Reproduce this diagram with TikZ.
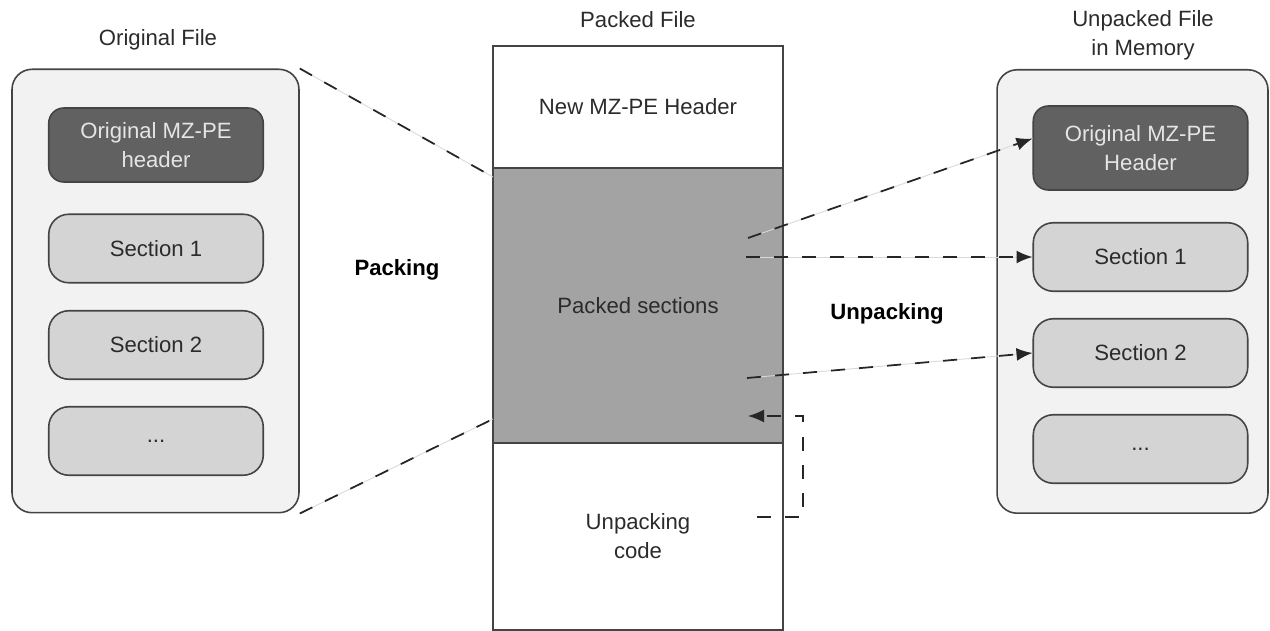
\documentclass[tikz,border=0pt]{standalone}
\usepackage{fontspec}
\setmainfont{Liberation Sans}
\usepackage{xcolor}
\usepackage{tikz}
\usetikzlibrary{arrows.meta}

\definecolor{boxline}{HTML}{444444}
\definecolor{contbg}{HTML}{F2F2F2}
\definecolor{secgray}{HTML}{D4D4D4}
\definecolor{hdrgray}{HTML}{616161}
\definecolor{packgray}{HTML}{A3A3A3}
\definecolor{txtgray}{HTML}{2B2B2B}

\begin{document}
\begin{tikzpicture}[x=0.02cm, y=-0.02cm,
  every node/.style={font=\fontsize{12.6}{16.5}\selectfont, text=txtgray, align=center},
  container/.style={draw=boxline, line width=0.9pt, fill=contbg, rounded corners=0.4cm,
    minimum width=#1, minimum height=8.87cm},
  hdrbox/.style={draw=boxline, line width=0.9pt, fill=hdrgray, text=white!90!black,
    rounded corners=0.3cm, minimum width=4.29cm},
  secbox/.style={draw=boxline, line width=0.9pt, fill=secgray, rounded corners=0.4cm,
    minimum width=4.29cm, minimum height=1.37cm},
  part/.style={draw=boxline, line width=1pt, minimum width=5.8cm, inner sep=0pt},
  steplabel/.style={font=\fontsize{12.6}{16.5}\selectfont\bfseries, text=black},
  flow/.style={draw=black!85, line width=1pt, dash pattern=on 8pt off 8pt,
    preaction={draw=black!15, solid, line width=0.5pt, -}},
  arrowflow/.style={flow, -{Latex[length=3.2mm,width=2.6mm]}}]
\useasboundingbox (0,0) rectangle (1270,631);

% Original file (left)
\node (origtitle) at (158,40) {Original File};
\node[container=5.74cm] (orig) at (155.5,291) {};
\node[hdrbox, minimum height=1.48cm] (ohdr) at (156,145) {Original MZ-PE\\header};
\node[secbox] (osec1) at (156,248.5) {Section 1};
\node[secbox] (osec2) at (156,345) {Section 2};
\node[secbox] (odots) at (156,441) {...};

% Packed file (middle)
\node (pktitle) at (638,20) {Packed File};
\node[part, minimum height=2.44cm] (pkhdr) at (638,107) {New MZ-PE Header};
\node[part, fill=packgray, minimum height=5.5cm] (pksec) at (638,305.5) {Packed sections};
\node[part, minimum height=3.74cm] (pkcode) at (638,536.5) {Unpacking\\code};

% Unpacked file in memory (right)
\node (memtitle) at (1143,35) {Unpacked File\\in Memory};
\node[container=5.42cm] (mem) at (1132.5,291.5) {};
\node[hdrbox, minimum height=1.68cm] (mhdr) at (1140.5,148) {Original MZ-PE\\Header};
\node[secbox] (msec1) at (1140.5,257) {Section 1};
\node[secbox] (msec2) at (1140.5,353) {Section 2};
\node[secbox] (mdots) at (1140.5,449) {...};

% Step labels
\node[steplabel] (packlbl) at (397,270) {Packing};
\node[steplabel] (unpacklbl) at (887,314) {Unpacking};

% Packing: original file squeezed into the packed sections
\coordinate (pkin1) at (493,177);
\coordinate (pkin2) at (493,419);
\draw[flow] (orig.north east) -- (pkin1);
\draw[flow] (orig.south east) -- (pkin2);

% Unpacking: packed sections restored in memory
\coordinate (src1) at (748,238);
\coordinate (src2) at (746,257);
\coordinate (src3) at (747,378);
\draw[arrowflow] (src1) -- (mhdr.175);
\draw[arrowflow] (src2) -- (msec1.west);
\draw[arrowflow] (src3) -- (msec2.west);

% Unpacking code works on the packed sections
\coordinate (loopstart) at (757,517);
\coordinate (loopend) at (748,416);
\draw[black!85, line width=0.9pt, dash pattern=on 8pt off 8pt, -{Latex[length=3.2mm,width=2.6mm]}]
  (loopstart) -- ++(46,0) |- (loopend);
\end{tikzpicture}
\end{document}
